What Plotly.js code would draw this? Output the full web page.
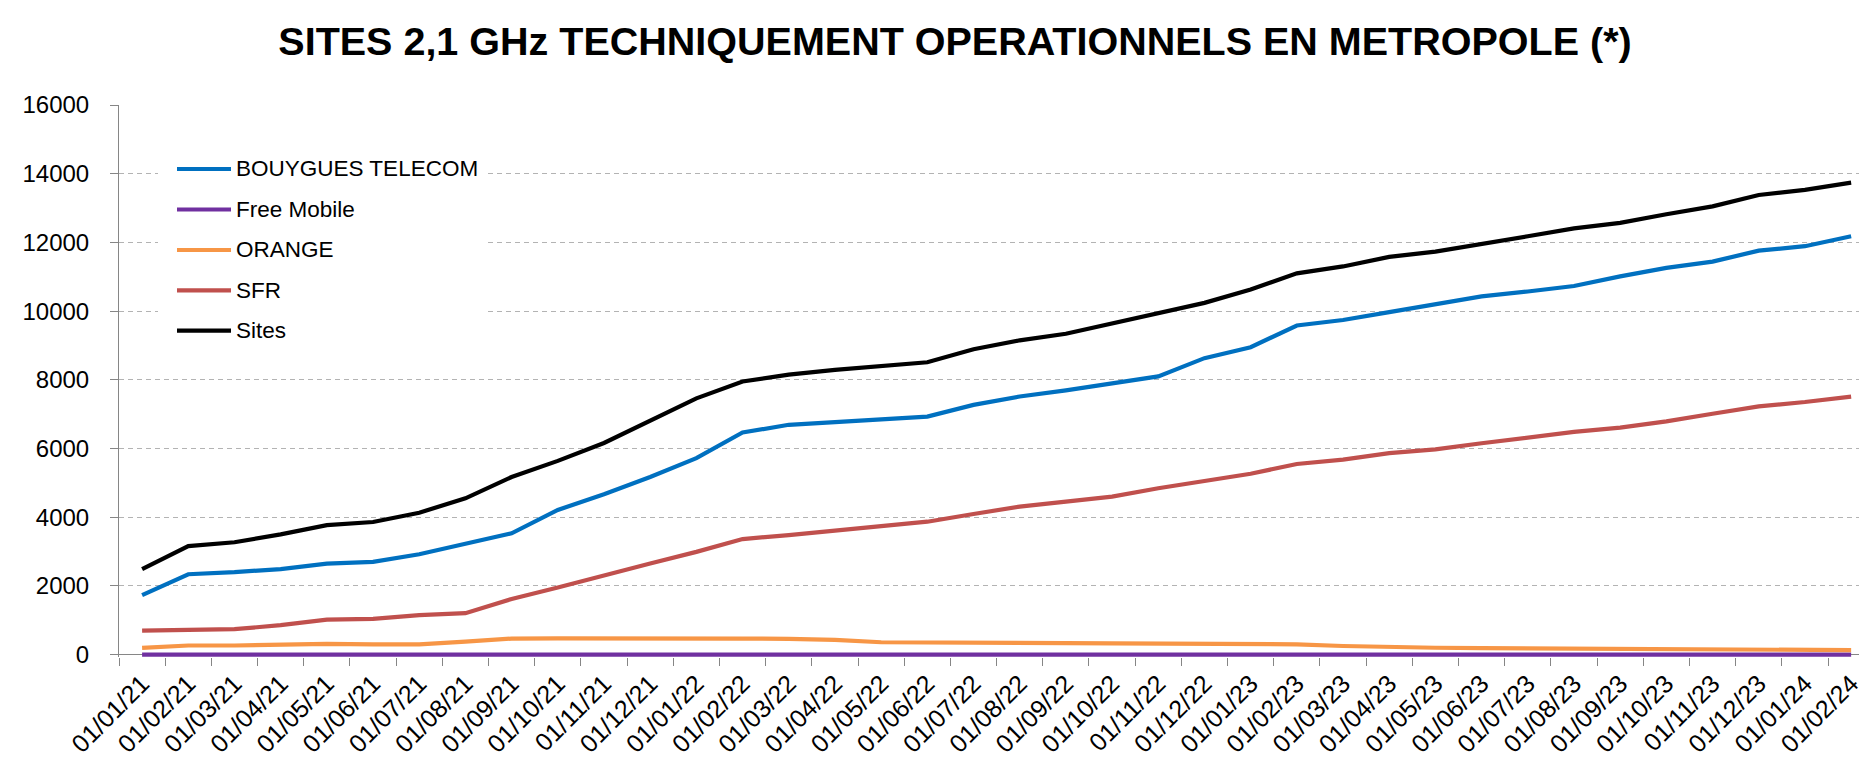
<!DOCTYPE html>
<html>
<head>
<meta charset="utf-8">
<script src="https://cdn.plot.ly/plotly-3.0.1.min.js"></script>
<style>
  html, body { margin: 0; padding: 0; background: #ffffff; }
  #chart { width: 1859px; height: 758px; }
</style>
</head>
<body>
<div id="chart"></div>
<script>
// ---- Data ----
const dates = [
  "01/01/21","01/02/21","01/03/21","01/04/21","01/05/21","01/06/21","01/07/21","01/08/21",
  "01/09/21","01/10/21","01/11/21","01/12/21","01/01/22","01/02/22","01/03/22","01/04/22",
  "01/05/22","01/06/22","01/07/22","01/08/22","01/09/22","01/10/22","01/11/22","01/12/22",
  "01/01/23","01/02/23","01/03/23","01/04/23","01/05/23","01/06/23","01/07/23","01/08/23",
  "01/09/23","01/10/23","01/11/23","01/12/23","01/01/24","01/02/24"
];

const bouygues = [1730,2340,2400,2490,2650,2700,2920,3210,3530,4210,4670,5170,5720,6465,6690,6770,
  6835,6930,7270,7515,7690,7900,8100,8630,8950,9580,9740,9970,10190,10430,10570,10730,
  11010,11260,11440,11760,11890,12180];

const freeMobile = [0,0,0,0,0,0,0,0,0,0,0,0,0,0,0,0,0,0,0,0,0,0,0,0,0,0,0,0,0,0,0,0,0,0,0,0,0,0];

const orange = [195,265,265,300,310,300,300,380,465,475,465,460,470,465,460,430,
  360,360,345,335,335,325,320,310,300,300,250,210,200,190,180,170,
  160,150,145,140,135,130];

const sfr = [700,710,740,856,1020,1040,1150,1205,1620,1954,2314,2650,2990,3364,3480,3607,
  3743,3869,4093,4307,4453,4599,4842,5060,5265,5549,5676,5867,5973,6154,6313,6483,
  6610,6790,7013,7225,7353,7512];

const sites = [2490,3160,3270,3500,3770,3860,4130,4550,5170,5640,6160,6810,7460,7950,8150,8290,
  8390,8510,8890,9150,9340,9650,9950,10240,10630,11100,11300,11580,11730,11970,12180,12410,
  12570,12820,13050,13380,13530,13740];

const seriesNames = ["BOUYGUES TELECOM", "Free Mobile", "ORANGE", "SFR", "Sites"];
const seriesValues = [bouygues, freeMobile, orange, sfr, sites];
const seriesColors = ["#0070C0", "#7030A0", "#F79646", "#C0504D", "#000000"];

const titleText = "SITES 2,1 GHz TECHNIQUEMENT OPERATIONNELS EN METROPOLE (*)";

// ---- Layout geometry ----
const W = 1859, H = 758;
const mL = 119, mR = 0, mT = 105, mB = 101;
const plotW = W - mL - mR, plotH = H - mT - mB;
const FONT = "Liberation Sans, Arial, sans-serif";
const LW = 4.2;

const traces = seriesNames.map((name, k) => ({
  type: "scatter",
  mode: "lines",
  name: name,
  x: dates,
  y: seriesValues[k],
  line: { color: seriesColors[k], width: LW },
  showlegend: false,
  hoverinfo: "x+y+name"
}));

// manual legend (pixel positions converted to paper coords)
const px2x = px => (px - mL) / plotW;
const py2y = py => (H - mB - py) / plotH;
const shapes = [{
  type: "rect", xref: "paper", yref: "paper", layer: "above",
  x0: px2x(158), x1: px2x(487), y0: py2y(365), y1: py2y(130),
  fillcolor: "#ffffff", line: { width: 0 }
}];
const annotations = [];
const rowY = [169, 209.5, 250, 290.3, 330.7];
seriesNames.forEach((name, k) => {
  shapes.push({
    type: "line", xref: "paper", yref: "paper", layer: "above",
    x0: px2x(177), x1: px2x(231), y0: py2y(rowY[k]), y1: py2y(rowY[k]),
    line: { color: seriesColors[k], width: LW }
  });
  annotations.push({
    xref: "paper", yref: "paper", x: px2x(234), y: py2y(rowY[k]),
    xanchor: "left", yanchor: "middle", showarrow: false,
    text: name, font: { family: FONT, size: 22.5, color: "#000000" }
  });
});

const layout = {
  width: W, height: H,
  paper_bgcolor: "#ffffff", plot_bgcolor: "#ffffff",
  margin: { l: mL, r: mR, t: mT, b: mB, pad: 0 },
  title: {
    text: "<b>" + titleText + "</b>",
    x: 955 / W, xanchor: "center", xref: "container",
    y: 1 - 41 / H, yanchor: "middle", yref: "container",
    font: { family: FONT, size: 39.5, color: "#000000" }
  },
  showlegend: false,
  xaxis: {
    type: "category",
    range: [-0.5, -0.5 + plotW / 46.19],
    tickson: "boundaries",
    ticks: "outside", ticklen: 8, tickcolor: "#868686", tickwidth: 1,
    showgrid: false, showline: false, zeroline: false,
    tickangle: -45,
    tickfont: { family: FONT, size: 25, color: "#000000" },
    ticklabelstandoff: 6,
    automargin: false,
    fixedrange: true
  },
  yaxis: {
    range: [-70, 16000],
    tick0: 0, dtick: 2000,
    tickformat: "d",
    showgrid: true, gridcolor: "#B3B3B3", gridwidth: 1, griddash: "5px,4px",
    showline: true, linecolor: "#868686", linewidth: 1,
    zeroline: true, zerolinecolor: "#868686", zerolinewidth: 1,
    ticks: "outside", ticklen: 8, tickcolor: "#868686", tickwidth: 1,
    tickfont: { family: FONT, size: 24, color: "#000000" },
    ticklabelstandoff: 16,
    automargin: false,
    fixedrange: true
  },
  shapes: shapes,
  annotations: annotations
};

Plotly.newPlot("chart", traces, layout, { displayModeBar: false, staticPlot: true });
</script>
</body>
</html>
